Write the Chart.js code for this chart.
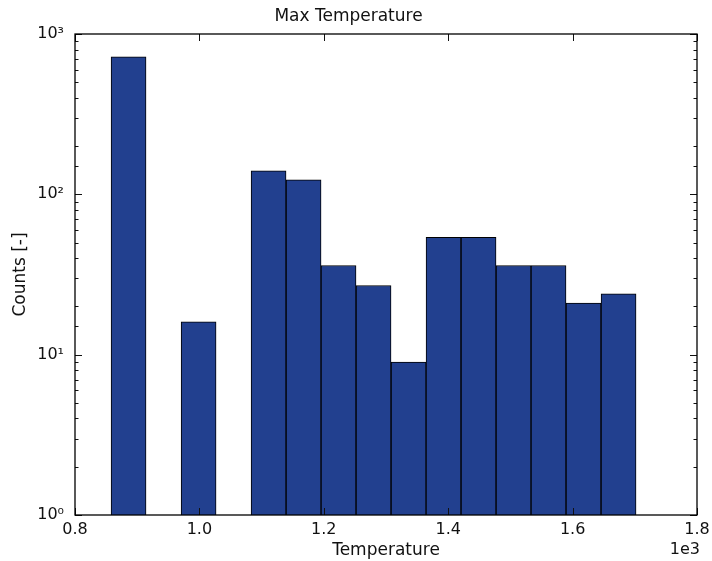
<!DOCTYPE html>
<html>
<head>
<meta charset="utf-8">
<script src="https://cdn.jsdelivr.net/npm/chart.js@4"></script>
<style>
  html, body { margin: 0; padding: 0; background: #fff; }
  #wrap { width: 712px; height: 561px; }
</style>
</head>
<body>
<div id="wrap"><canvas id="c" width="712" height="561"></canvas></div>
<script>
// Histogram bins (bin centres, raw temperature units)
const binCenters = [886.1, 942.4, 998.7, 1054.9, 1111.2, 1167.5, 1223.7, 1280.0,
                    1336.3, 1392.5, 1448.8, 1505.1, 1561.3, 1617.6, 1673.9];
// Counts per bin (null = empty bin)
const counts = [720, null, 16, null, 140, 123, 36, 27, 9, 54, 54, 36, 36, 21, 24];
const xTickValues = [800, 1000, 1200, 1400, 1600, 1800];
const yTickLabels = { 1: '10\u2070', 10: '10\u00B9', 100: '10\u00B2', 1000: '10\u00B3' };

const FONT = 'DejaVu Sans';
const isPow10 = v => Math.abs(Math.log10(v) - Math.round(Math.log10(v))) < 1e-9;

const frameTicks = {
  id: 'frameTicks',
  afterDatasetsDraw(chart) {
    const { ctx, chartArea: a, scales: { x, y } } = chart;
    ctx.save();
    ctx.strokeStyle = '#111';
    ctx.lineWidth = 1;
    ctx.beginPath();
    x.ticks.forEach(t => {
      const px = Math.round(x.getPixelForValue(t.value)) + 0.5;
      ctx.moveTo(px, a.bottom); ctx.lineTo(px, a.bottom - 7);
      ctx.moveTo(px, a.top); ctx.lineTo(px, a.top + 7);
    });
    y.ticks.forEach(t => {
      const len = isPow10(t.value) ? 7 : 3.5;
      const py = Math.round(y.getPixelForValue(t.value)) + 0.5;
      ctx.moveTo(a.left, py); ctx.lineTo(a.left + len, py);
      ctx.moveTo(a.right, py); ctx.lineTo(a.right - len, py);
    });
    ctx.stroke();
    ctx.lineWidth = 1.3;
    ctx.strokeStyle = '#000';
    ctx.strokeRect(a.left, a.top, a.right - a.left, a.bottom - a.top);
    ctx.fillStyle = '#111';
    ctx.font = '16px "' + FONT + '"';
    ctx.textAlign = 'right';
    ctx.textBaseline = 'middle';
    ctx.fillText('1e3', a.right + 3, a.bottom + 35);
    ctx.restore();
  }
};

new Chart(document.getElementById('c'), {
  type: 'bar',
  data: {
    datasets: [{
      data: binCenters.map((c, i) => ({ x: c, y: counts[i] })),
      backgroundColor: '#22408f',
      borderColor: '#000',
      borderWidth: 1,
      borderSkipped: 'start',
      barPercentage: 1,
      categoryPercentage: 1
    }]
  },
  options: {
    responsive: false,
    animation: false,
    events: [],
    layout: { padding: { left: 0, right: 15, top: 0, bottom: 0 } },
    plugins: {
      legend: { display: false },
      tooltip: { enabled: false },
      title: {
        display: true,
        text: 'Max Temperature',
        color: '#111',
        font: { family: FONT, size: 17, weight: 'normal' },
        padding: { top: 6, bottom: 7.6 }
      }
    },
    scales: {
      x: {
        type: 'linear',
        offset: false,
        min: 800,
        max: 1800,
        afterBuildTicks: s => { s.ticks = xTickValues.map(v => ({ value: v })); },
        afterFit: s => { s.height = 46; s.paddingLeft = 0; s.paddingRight = 0; },
        grid: { display: false, drawTicks: false },
        border: { display: false },
        ticks: {
          color: '#111',
          padding: 5,
          maxRotation: 0,
          autoSkip: false,
          font: { family: FONT, size: 16 },
          callback: v => (v / 1000).toFixed(1)
        },
        title: {
          display: true,
          text: 'Temperature',
          color: '#111',
          font: { family: FONT, size: 17 },
          padding: { top: 0, bottom: 0 }
        }
      },
      y: {
        type: 'logarithmic',
        min: 1,
        max: 1000,
        afterFit: s => { s.width = 75; },
        grid: { display: false, drawTicks: false },
        border: { display: false },
        ticks: {
          color: '#111',
          padding: 11,
          autoSkip: false,
          font: { family: FONT, size: 16 },
          callback: v => yTickLabels[v] !== undefined ? yTickLabels[v] : ''
        },
        title: {
          display: true,
          text: 'Counts [-]',
          color: '#111',
          font: { family: FONT, size: 17 },
          padding: { top: 10, bottom: 0 }
        }
      }
    }
  },
  plugins: [frameTicks]
});
</script>
</body>
</html>
